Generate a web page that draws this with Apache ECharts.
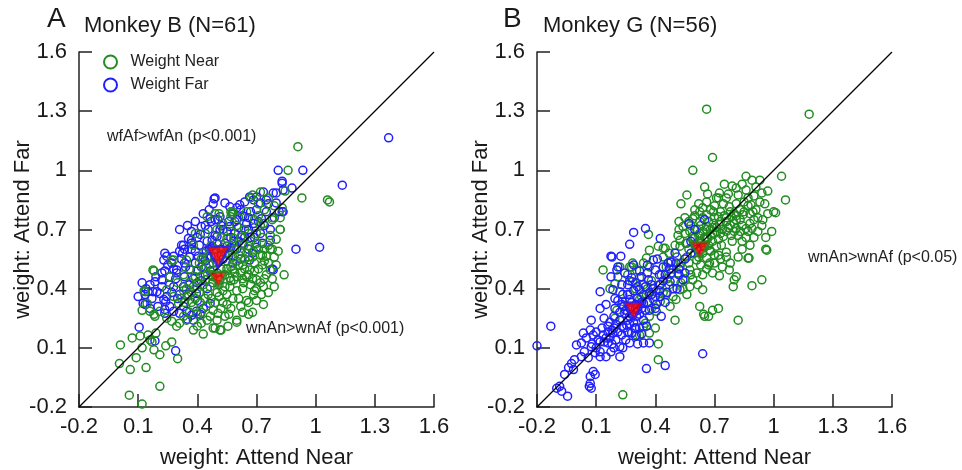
<!DOCTYPE html>
<html>
<head>
<meta charset="utf-8">
<script src="https://cdn.jsdelivr.net/npm/echarts@6/dist/echarts.min.js"></script>
<style>
  html, body { margin: 0; padding: 0; background: #fff; }
  #chart { width: 962px; height: 470px; }
</style>
</head>
<body>
<div id="chart"></div>
<script>
// Axis ticks shared by both panels
const TICKS = [-0.2, 0.1, 0.4, 0.7, 1.0, 1.3, 1.6];
const TICK_LABELS = ['-0.2', '0.1', '0.4', '0.7', '1', '1.3', '1.6'];
const DIAGONAL = [-0.2, 1.6];

// Panel A: Monkey B — [attend near, attend far]
const nearB = [
  [0.91,1.12],[0.86,1.0],[0.93,0.86],[1.06,0.85],[1.07,0.84],[0.84,0.47],[0.82,0.70],[0.845,0.895],[0.77,0.60],
  [0.60,0.23],[0.52,0.19],[0.49,0.20],[0.43,0.17],[0.38,0.19],[0.68,0.28],[0.735,0.32],[0.66,0.33],[0.30,0.045],
  [0.27,0.13],[0.24,0.11],[0.21,-0.095],[0.14,0.0],[0.09,0.05],[0.06,-0.01],[0.055,-0.14],[0.12,-0.185],[0.005,0.02],
  [0.01,0.115],[0.07,0.15],[0.12,0.10],[0.17,0.13],[0.18,0.09],[0.21,0.065],[0.15,0.165],[0.19,0.175],[0.18,0.27],
  [0.16,0.285],[0.13,0.39],[0.18,0.49],[0.26,0.46],[0.28,0.545],[0.16,0.14],[0.11,0.16],[0.135,0.385],[0.145,0.325],
  [0.12,0.29],[0.185,0.26],[0.68,0.875],[0.67,0.86],[0.57,0.79],[0.575,0.78],[0.49,0.78],[0.45,0.765],[0.735,0.73],
  [0.78,0.75],[0.82,0.70],[0.78,0.60],[0.73,0.52],[0.74,0.54],[0.66,0.56],[0.63,0.52],[0.60,0.54],[0.58,0.56],
  [0.55,0.54],[0.57,0.51],[0.62,0.48],[0.65,0.46],[0.70,0.445],[0.735,0.41],[0.725,0.37],[0.685,0.37],[0.65,0.34],
  [0.60,0.39],[0.565,0.41],[0.53,0.39],[0.50,0.38],[0.465,0.41],[0.44,0.445],[0.415,0.46],[0.40,0.495],[0.36,0.43],
  [0.345,0.40],[0.39,0.35],[0.415,0.33],[0.445,0.31],[0.48,0.29],[0.505,0.275],[0.54,0.26],[0.50,0.24],[0.465,0.26],
  [0.42,0.225],[0.40,0.21],[0.345,0.24],[0.31,0.225],[0.295,0.21],[0.60,0.24],[0.555,0.21],[0.515,0.19],[0.48,0.20],
  [0.27,0.235],[0.245,0.25],[0.21,0.285],[0.175,0.495],[0.27,0.545],[0.345,0.545],[0.38,0.62],[0.39,0.68],[0.44,0.68],
  [0.50,0.70],[0.53,0.73],[0.55,0.655],[0.585,0.655],[0.635,0.62],[0.66,0.615],[0.685,0.59],[0.72,0.57],[0.75,0.565],
  [0.77,0.495],[0.665,0.495],[0.565,0.455],[0.515,0.445],[0.48,0.43],[0.455,0.37],[0.61,0.35],[0.635,0.43],[0.69,0.49],
  [0.445,0.51],[0.50,0.48],[0.54,0.47],[0.585,0.445],[0.38,0.31],[0.335,0.33],[0.305,0.325],[0.32,0.35],[0.28,0.36],
  [0.245,0.395],[0.52,0.50],[0.56,0.58],[0.61,0.57],[0.64,0.55],[0.69,0.53],[0.71,0.60],[0.67,0.64],[0.62,0.66],
  [0.59,0.60],[0.53,0.61],[0.49,0.56],[0.47,0.47],[0.43,0.42],[0.40,0.40],[0.37,0.38],[0.51,0.42],[0.58,0.50],
  [0.63,0.45],[0.67,0.42],[0.70,0.40],[0.75,0.47],[0.80,0.52],[0.79,0.56],[0.76,0.62],[0.73,0.66],[0.70,0.68],
  [0.64,0.70],[0.60,0.72],[0.57,0.69],[0.52,0.66],[0.47,0.62],[0.43,0.58],[0.41,0.53],[0.36,0.50],[0.33,0.47],
  [0.30,0.43],[0.47,0.35],[0.53,0.33],[0.57,0.30],[0.62,0.31],[0.66,0.27],[0.42,0.28],[0.36,0.28],[0.33,0.26],
  [0.55,0.37],[0.74,0.80],[0.71,0.77],[0.65,0.79],[0.61,0.76],[0.79,0.82],[0.83,0.81],[0.76,0.86],[0.72,0.89],
  [0.82,0.76],[0.78,0.76],[0.71,0.83],[0.58,0.79],[0.57,0.765],[0.51,0.78],
  [0.46,0.52],[0.48,0.46],[0.51,0.36],[0.54,0.41],[0.57,0.44],[0.59,0.48],[0.61,0.52],[0.64,0.50],[0.66,0.47],
  [0.68,0.45],[0.71,0.50],[0.73,0.57],[0.76,0.53],[0.78,0.45],[0.72,0.43],[0.69,0.39],[0.63,0.40],[0.58,0.35],
  [0.55,0.32],[0.52,0.30],[0.49,0.33],[0.44,0.35],[0.41,0.38],[0.38,0.41],[0.35,0.36],[0.33,0.39],[0.43,0.50],
  [0.45,0.56],[0.50,0.53],[0.55,0.50],[0.60,0.46],[0.62,0.59],[0.65,0.58],[0.68,0.56],[0.70,0.63],[0.74,0.60],
  [0.81,0.59],[0.80,0.65],[0.77,0.67],[0.72,0.72],[0.69,0.75],[0.66,0.68],[0.58,0.63],[0.54,0.58],[0.49,0.60],
  [0.42,0.55],[0.39,0.46],[0.37,0.33],[0.40,0.27],[0.45,0.24],[0.56,0.27],[0.63,0.28],[0.70,0.34],[0.76,0.38],
  [0.79,0.41],[0.74,0.45]
];
const farB = [
  [1.37,1.165],[1.135,0.925],[1.02,0.61],[0.90,0.60],[0.935,1.0],[0.81,1.0],[0.83,0.935],[0.88,0.91],[0.80,0.885],
  [0.78,0.50],[0.77,0.645],[0.835,0.79],[0.815,0.79],[0.70,0.865],[0.665,0.865],[0.75,0.85],[0.485,0.855],[0.48,0.83],
  [0.54,0.835],[0.565,0.815],[0.37,0.69],[0.415,0.675],[0.42,0.715],[0.465,0.755],[0.505,0.75],[0.515,0.70],[0.32,0.62],
  [0.37,0.645],[0.245,0.565],[0.27,0.53],[0.325,0.58],[0.335,0.53],[0.295,0.495],[0.235,0.49],[0.10,0.36],[0.135,0.32],
  [0.195,0.385],[0.24,0.335],[0.235,0.295],[0.105,0.205],[0.29,0.085],[0.185,0.135],[0.35,0.245],[0.415,0.27],
  [0.49,0.86],[0.615,0.825],[0.64,0.765],[0.60,0.75],[0.515,0.765],[0.49,0.75],[0.455,0.70],[0.31,0.70],[0.355,0.655],
  [0.37,0.63],[0.33,0.62],[0.235,0.58],[0.23,0.545],[0.28,0.565],[0.31,0.59],[0.335,0.60],[0.39,0.59],[0.405,0.565],
  [0.39,0.53],[0.42,0.51],[0.465,0.49],[0.475,0.615],[0.445,0.59],[0.55,0.615],[0.585,0.64],[0.625,0.67],[0.66,0.70],
  [0.685,0.73],[0.725,0.755],[0.75,0.79],[0.80,0.835],[0.83,0.79],[0.835,0.90],[0.785,0.885],[0.735,0.89],[0.83,0.945],
  [0.685,0.85],[0.72,0.835],[0.77,0.70],[0.785,0.495],[0.70,0.61],[0.665,0.545],[0.12,0.43],[0.135,0.37],[0.15,0.385],
  [0.175,0.385],[0.17,0.35],[0.125,0.325],[0.21,0.375],[0.23,0.345],[0.245,0.36],[0.26,0.31],[0.28,0.285],[0.235,0.275],
  [0.31,0.275],[0.345,0.285],[0.37,0.265],[0.395,0.285],[0.38,0.24],[0.43,0.30],[0.465,0.325],[0.22,0.445],[0.185,0.435],
  [0.26,0.46],[0.295,0.48],[0.335,0.46],[0.365,0.495],[0.28,0.41],[0.31,0.37],[0.355,0.37],[0.395,0.375],[0.50,0.665],
  [0.53,0.70],[0.565,0.715],[0.59,0.68],[0.475,0.645],[0.52,0.60],[0.56,0.57],[0.60,0.60],[0.63,0.63],[0.57,0.66],
  [0.50,0.63],[0.47,0.56],[0.44,0.54],[0.53,0.55],[0.58,0.53],[0.62,0.55],[0.66,0.60],[0.69,0.66],[0.72,0.68],
  [0.74,0.72],[0.65,0.73],[0.61,0.71],[0.56,0.74],[0.45,0.64],[0.41,0.62],[0.36,0.56],[0.38,0.45],[0.42,0.44],
  [0.45,0.40],[0.40,0.34],[0.33,0.31],[0.30,0.35],[0.27,0.38],[0.20,0.31],[0.16,0.30],[0.43,0.78],[0.39,0.74],
  [0.46,0.80],[0.58,0.78],[0.62,0.80],[0.67,0.79],[0.70,0.80],[0.76,0.83],[0.79,0.76],[0.73,0.63],[0.68,0.58],
  [0.40,0.49],[0.43,0.56],[0.46,0.60],[0.49,0.67],[0.52,0.72],[0.55,0.69],[0.59,0.74],[0.63,0.77],[0.66,0.76],
  [0.69,0.71],[0.71,0.74],[0.67,0.66],[0.64,0.66],[0.61,0.64],[0.57,0.61],[0.54,0.63],[0.52,0.57],[0.48,0.53],
  [0.44,0.47],[0.40,0.43],[0.36,0.42],[0.33,0.41],[0.34,0.51],[0.32,0.55],[0.28,0.50],[0.25,0.52],[0.22,0.48],
  [0.19,0.46],[0.16,0.42],[0.14,0.40],[0.29,0.45],[0.26,0.42],[0.22,0.41],[0.37,0.60],[0.40,0.66],[0.35,0.72],
  [0.44,0.72],[0.47,0.74],[0.60,0.81],[0.64,0.84]
];
const meanNearB = [0.505, 0.445];
const meanFarB = [0.505, 0.56];

// Panel B: Monkey G — [attend near, attend far]
const nearG = [
  [0.66,1.31],[1.18,1.285],[0.69,1.065],[0.59,1.0],[1.04,0.97],[0.86,0.97],[1.06,0.85],[0.97,0.895],[1.0,0.79],
  [1.01,0.785],[0.945,0.75],[0.96,0.60],[0.965,0.595],[0.94,0.445],[0.89,0.415],[0.875,0.555],[0.82,0.24],[0.795,0.41],
  [0.80,0.445],[0.72,0.30],[0.69,0.29],[0.67,0.26],[0.645,0.27],[0.775,0.495],[0.725,0.465],[0.67,0.52],[0.415,0.04],
  [0.415,0.12],[0.235,-0.138],[0.50,0.24],[0.37,0.175],[0.40,0.20],[0.35,0.225],[0.32,0.165],
  [0.65,0.915],[0.665,0.88],[0.56,0.875],[0.53,0.83],[0.725,0.885],[0.76,0.86],[0.81,0.91],[0.82,0.875],[0.86,0.90],
  [0.91,0.915],[0.94,0.885],[0.955,0.83],[0.885,0.825],[0.895,0.79],[0.845,0.775],[0.81,0.83],[0.775,0.815],[0.745,0.83],
  [0.71,0.86],[0.695,0.79],[0.72,0.765],[0.66,0.775],[0.625,0.79],[0.60,0.80],[0.59,0.755],[0.625,0.74],[0.66,0.715],
  [0.695,0.73],[0.725,0.725],[0.76,0.74],[0.785,0.765],[0.81,0.75],[0.86,0.705],[0.89,0.705],[0.81,0.705],[0.785,0.67],
  [0.745,0.665],[0.70,0.68],[0.665,0.655],[0.625,0.68],[0.575,0.69],[0.54,0.715],[0.525,0.645],[0.555,0.63],[0.59,0.655],
  [0.515,0.67],[0.71,0.615],[0.735,0.62],[0.76,0.56],[0.72,0.57],[0.675,0.595],[0.675,0.53],[0.66,0.50],[0.70,0.53],
  [0.81,0.46],[0.87,0.555],[0.76,0.585],[0.37,0.595],[0.415,0.615],[0.44,0.605],[0.355,0.555],[0.37,0.51],[0.44,0.56],
  [0.475,0.535],[0.49,0.50],[0.515,0.48],[0.285,0.53],[0.28,0.51],[0.22,0.51],[0.135,0.495],[0.365,0.675],[0.45,0.605],
  [0.34,0.53],[0.305,0.495],[0.27,0.51],[0.21,0.46],[0.26,0.47],[0.285,0.435],[0.32,0.455],[0.34,0.42],[0.17,0.40],
  [0.195,0.425],[0.22,0.385],[0.235,0.335],[0.205,0.29],[0.195,0.25],[0.32,0.345],[0.355,0.37],[0.39,0.345],[0.425,0.335],
  [0.455,0.37],[0.49,0.36],[0.525,0.395],[0.56,0.37],[0.505,0.345],[0.475,0.31],[0.405,0.285],[0.37,0.26],[0.34,0.21],
  [0.305,0.165],[0.455,0.51],[0.525,0.51],[0.575,0.495],[0.59,0.445],[0.575,0.41],[0.615,0.42],[0.64,0.395],[0.65,0.26],
  [0.625,0.31],[0.61,0.48],[0.56,0.56],[0.525,0.615],[0.56,0.63],[0.59,0.665],[0.625,0.64],[0.66,0.655],[0.64,0.58],
  [0.61,0.545],[0.64,0.76],[0.67,0.74],[0.70,0.76],[0.73,0.79],[0.75,0.77],[0.78,0.79],[0.80,0.78],[0.83,0.80],
  [0.85,0.84],[0.87,0.86],[0.90,0.87],[0.93,0.84],[0.90,0.75],[0.88,0.73],[0.84,0.72],[0.80,0.73],[0.77,0.71],
  [0.74,0.70],[0.71,0.71],[0.68,0.70],[0.64,0.69],[0.61,0.70],[0.60,0.66],[0.63,0.63],[0.67,0.62],[0.69,0.64],
  [0.72,0.65],[0.79,0.64],[0.82,0.67],[0.84,0.64],[0.86,0.66],[0.92,0.69],[0.96,0.66],[0.99,0.69],[0.58,0.72],
  [0.62,0.83],[0.66,0.84],[0.70,0.82],[0.77,0.88],[0.79,0.92],[0.84,0.93],[0.87,0.82],[0.66,0.555],[0.63,0.52],
  [0.60,0.58],[0.57,0.60],[0.55,0.68],[0.52,0.70],[0.69,0.48],[0.64,0.47],[0.55,0.45],[0.53,0.43],[0.46,0.45],
  [0.43,0.47],[0.42,0.42],[0.38,0.44],[0.30,0.40],[0.27,0.37],[0.44,0.38],
  [0.63,0.72],[0.65,0.66],[0.68,0.67],[0.71,0.69],[0.73,0.74],[0.76,0.76],[0.78,0.72],[0.81,0.77],[0.83,0.75],
  [0.85,0.79],[0.88,0.78],[0.91,0.80],[0.92,0.76],[0.87,0.69],[0.83,0.69],[0.80,0.69],[0.76,0.69],[0.73,0.68],
  [0.69,0.71],[0.66,0.70],[0.62,0.67],[0.60,0.62],[0.62,0.56],[0.65,0.61],[0.68,0.59],[0.70,0.57],[0.73,0.55],
  [0.74,0.51],[0.78,0.53],[0.82,0.56],[0.84,0.60],[0.88,0.62],[0.90,0.66],[0.94,0.72],[0.97,0.78],[0.93,0.95],
  [0.89,0.95],[0.75,0.93],[0.72,0.86],[0.68,0.80],[0.64,0.81],[0.60,0.77],[0.57,0.74],[0.55,0.76],[0.52,0.74],
  [0.50,0.62],[0.47,0.58],[0.51,0.56],[0.53,0.53],[0.57,0.53],[0.58,0.47],[0.54,0.40],[0.50,0.44],[0.47,0.42],
  [0.41,0.38],[0.36,0.40],[0.33,0.36],[0.38,0.30]
];
const farG = [
  [0.35,0.705],[0.29,0.685],[0.27,0.625],[0.425,0.655],[0.175,0.565],[0.225,0.565],[0.21,0.51],[0.175,0.46],[0.205,0.495],
  [0.245,0.48],[0.28,0.455],[0.26,0.42],[0.23,0.42],[0.185,0.395],[0.12,0.385],[0.195,0.35],[0.235,0.37],[0.27,0.345],
  [0.305,0.32],[0.34,0.325],[0.37,0.29],[0.405,0.32],[0.425,0.36],[0.39,0.40],[0.365,0.445],[0.40,0.495],[0.39,0.545],
  [0.465,0.53],[0.50,0.58],[0.505,0.53],[0.54,0.445],[0.49,0.40],[0.45,0.47],[0.475,0.435],[0.425,0.42],[0.32,0.395],
  [0.12,0.30],[0.15,0.32],[0.195,0.30],[0.23,0.32],[0.245,0.275],[0.22,0.24],[0.27,0.26],[0.305,0.26],[0.34,0.24],
  [0.355,0.21],[0.295,0.20],[0.255,0.215],[0.28,0.175],[0.34,0.125],[0.37,0.125],[0.27,0.125],[0.22,0.105],[0.23,0.165],
  [0.185,0.175],[0.15,0.15],[0.11,0.14],[0.085,0.165],[0.075,0.24],[0.07,0.19],[0.035,0.175],[0.0,0.115],[0.025,0.125],
  [0.075,0.105],[0.135,0.165],[0.16,0.125],[0.095,0.075],[0.12,0.055],[0.15,0.055],[0.175,0.08],[0.22,0.055],[0.235,0.10],
  [0.025,0.055],[-0.01,0.04],[-0.025,0.02],[-0.04,0.0],[-0.015,-0.01],[-0.06,-0.035],[-0.085,-0.095],[-0.10,-0.105],
  [-0.075,-0.12],[-0.045,-0.145],[-0.13,0.21],[0.07,-0.08],[0.085,-0.02],[0.07,-0.045],[0.095,-0.035],[0.065,-0.095],
  [0.075,-0.105],[0.355,-0.005],[0.64,0.07],[0.45,0.01],[-0.2,0.11],[0.18,0.56],[0.48,0.535],[0.57,0.73],[0.60,0.70],
  [0.65,0.75],[0.55,0.55],[0.58,0.64],[0.61,0.60],[0.13,0.20],[0.16,0.21],[0.18,0.19],[0.20,0.22],[0.17,0.23],
  [0.14,0.25],[0.19,0.26],[0.21,0.18],[0.24,0.20],[0.26,0.24],[0.29,0.23],[0.31,0.29],[0.27,0.30],[0.24,0.31],
  [0.21,0.34],[0.26,0.37],[0.29,0.39],[0.31,0.35],[0.33,0.30],[0.36,0.33],[0.38,0.37],[0.35,0.41],[0.30,0.43],
  [0.33,0.46],[0.36,0.48],[0.42,0.47],[0.44,0.51],[0.48,0.48],[0.52,0.47],[0.46,0.38],[0.51,0.40],[0.12,0.13],
  [0.10,0.18],[0.05,0.15],[0.04,0.08],[0.18,0.12],[0.25,0.14],[0.30,0.16],[0.32,0.20],[0.28,0.33],[0.34,0.37],
  [0.40,0.30],[0.43,0.26],[0.45,0.33],[0.31,0.41],[0.27,0.44],
  [0.22,0.28],[0.25,0.29],[0.28,0.27],[0.32,0.27],[0.35,0.29],[0.33,0.33],[0.30,0.30],[0.27,0.22],[0.23,0.21],
  [0.19,0.20],[0.16,0.18],[0.14,0.13],[0.17,0.15],[0.20,0.14],[0.26,0.18],[0.30,0.20],[0.33,0.17],[0.31,0.12],
  [0.08,0.12],[0.10,0.10],[0.06,0.05],[0.12,0.08],[0.19,0.10],[0.37,0.38],[0.40,0.36],[0.42,0.39],[0.38,0.42],
  [0.44,0.44],[0.47,0.50],[0.52,0.50],[0.55,0.48],[0.58,0.58],[0.41,0.55],[0.36,0.52],[0.32,0.49],[0.29,0.52]
];
const meanNearG = [0.625, 0.595];
const meanFarG = [0.29, 0.285];

const GREEN = '#228b22';
const BLUE = '#1f1fff';
const RED = '#ff0000';
const INK = '#1a1a1a';
const FONT = '"Liberation Sans", Arial, sans-serif';

const chart = echarts.init(document.getElementById('chart'), null, { renderer: 'canvas' });

function tickLabel(v) {
  const i = TICKS.findIndex(t => Math.abs(t - v) < 1e-6);
  return i >= 0 ? TICK_LABELS[i] : '';
}

function makeAxis(gridIndex, name, isX) {
  return {
    type: 'value',
    gridIndex,
    min: TICKS[0],
    max: TICKS[TICKS.length - 1],
    name,
    nameLocation: 'middle',
    nameGap: isX ? 40 : 45,
    nameMoveOverlap: false,
    nameTextStyle: { fontSize: 22, color: INK, fontFamily: FONT },
    axisLine: { show: true, onZero: false, lineStyle: { color: '#222', width: 1.5 } },
    axisTick: { show: true, inside: true, length: 13, customValues: TICKS, lineStyle: { color: '#222', width: 1.5 } },
    axisLabel: { customValues: TICKS, formatter: tickLabel, fontSize: 22, color: INK, fontFamily: FONT, margin: isX ? 9 : 12 },
    splitLine: { show: false }
  };
}

function scatter(name, data, color, idx, z) {
  return {
    type: 'scatter', name, data, xAxisIndex: idx, yAxisIndex: idx,
    symbol: 'circle', symbolSize: 8, z,
    itemStyle: { color: 'rgba(0,0,0,0)', borderColor: color, borderWidth: 1.5, opacity: 1 },
    emphasis: { disabled: true }, silent: true
  };
}

function meanMark(name, point, border, size, idx) {
  return {
    type: 'scatter', name, data: [point], xAxisIndex: idx, yAxisIndex: idx,
    symbol: 'triangle', symbolRotate: 180, symbolSize: size, z: 10,
    itemStyle: { color: RED, borderColor: border, borderWidth: 2.5 },
    emphasis: { disabled: true }, silent: true
  };
}

function diagonal(idx) {
  return {
    type: 'line', data: [[DIAGONAL[0], DIAGONAL[0]], [DIAGONAL[1], DIAGONAL[1]]],
    xAxisIndex: idx, yAxisIndex: idx, symbol: 'none', z: 5, silent: true,
    lineStyle: { color: '#000', width: 1.3 }
  };
}

const titleStyle = (size) => ({ fontSize: size, fontWeight: 'normal', color: INK, fontFamily: FONT });

chart.setOption({
  animation: false,
  backgroundColor: '#fff',
  textStyle: { fontFamily: FONT },
  title: [
    { text: 'A', left: 47, top: 5, padding: 0, textStyle: titleStyle(28) },
    { text: 'Monkey B (N=61)', left: 84, top: 15, padding: 0, textStyle: titleStyle(22) },
    { text: 'B', left: 503, top: 5, padding: 0, textStyle: titleStyle(28) },
    { text: 'Monkey G (N=56)', left: 543, top: 15, padding: 0, textStyle: titleStyle(22) }
  ],
  legend: {
    left: 103, top: 54, orient: 'vertical', itemWidth: 30, itemHeight: 13, itemGap: 7,
    selectedMode: false, padding: 0,
    textStyle: { fontSize: 16, color: '#222', fontFamily: FONT },
    data: [
      { name: 'Weight Near', icon: 'circle', itemStyle: { color: 'rgba(0,0,0,0)', borderColor: GREEN, borderWidth: 2 } },
      { name: 'Weight Far', icon: 'circle', itemStyle: { color: 'rgba(0,0,0,0)', borderColor: BLUE, borderWidth: 2 } }
    ]
  },
  grid: [
    { left: 79, top: 52, width: 355, height: 355, outerBoundsMode: 'none', containLabel: false },
    { left: 537, top: 52, width: 355, height: 355, outerBoundsMode: 'none', containLabel: false }
  ],
  xAxis: [makeAxis(0, 'weight: Attend Near', true), makeAxis(1, 'weight: Attend Near', true)],
  yAxis: [makeAxis(0, 'weight: Attend Far', false), makeAxis(1, 'weight: Attend Far', false)],
  graphic: [
    { type: 'text', left: 107, top: 129, silent: true,
      style: { text: 'wfAf>wfAn (p<0.001)', font: '16px ' + FONT, fill: '#222' } },
    { type: 'text', left: 246, top: 321, silent: true,
      style: { text: 'wnAn>wnAf (p<0.001)', font: '16px ' + FONT, fill: '#222' } },
    { type: 'text', left: 808, top: 250, silent: true,
      style: { text: 'wnAn>wnAf (p<0.05)', font: '16px ' + FONT, fill: '#222' } }
  ],
  series: [
    scatter('Weight Far', farB, BLUE, 0, 2),
    scatter('Weight Near', nearB, GREEN, 0, 3),
    diagonal(0),
    meanMark('Weight Far', meanFarB, BLUE, [24, 21], 0),
    meanMark('Weight Near', meanNearB, GREEN, [18, 16], 0),

    scatter('Weight Near', nearG, GREEN, 1, 2),
    scatter('Weight Far', farG, BLUE, 1, 3),
    diagonal(1),
    meanMark('Weight Far', meanFarG, BLUE, [20, 18], 1),
    meanMark('Weight Near', meanNearG, GREEN, [20, 17], 1)
  ]
});
</script>
</body>
</html>
